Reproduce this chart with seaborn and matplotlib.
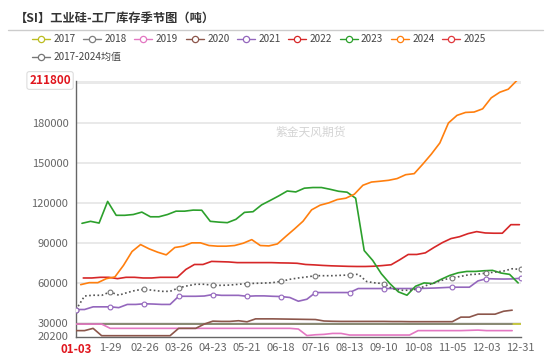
import numpy as np
import matplotlib
matplotlib.use('Agg')
import matplotlib.pyplot as plt
from matplotlib.lines import Line2D
import seaborn as sns
import pandas as pd

sns.set_style('white')
plt.rcParams['font.family'] = ['Noto Sans CJK SC', 'DejaVu Sans']

# x axis: weekly categories, labels every 4 weeks
tick_labels = ['01-03', '1-29', '02-26', '03-26', '04-23', '05-21', '06-18',
               '07-16', '08-13', '09-10', '10-08', '11-05', '12-03', '12-31']

# weekly factory inventory (tons)
y2017 = [29600] * 53
y2018 = [29600] * 52
y2019 = [29500, 29500, 29500, 29500, 26300, 26300, 26300, 26300, 26300, 26300,
         26300, 26300, 26300, 26300, 26300, 26300, 26300, 26300, 26300, 26300,
         26300, 26300, 26300, 26300, 26300, 26300, 25800, 20900, 21500, 21800,
         22500, 22500, 21300, 21300, 21300, 21300, 21300, 21300, 21300, 21300,
         24600, 24600, 24600, 24600, 24600, 24600, 24800, 25000, 24600, 24600,
         24600, 24600]
y2020 = [24600, 24600, 26300, 20800, 20800, 20800, 20800, 20800, 20800, 20800,
         20800, 20800, 26300, 26300, 26300, 29500, 31700, 31500, 31500, 32000,
         31200, 33400, 33400, 33400, 33300, 33200, 33100, 33000, 32900, 31800,
         31600, 31500, 31500, 31500, 31500, 31500, 31500, 31400, 31400, 31300,
         31300, 31300, 31300, 31300, 31300, 34700, 34700, 36900, 36900, 36900,
         39100, 39900]
y2021 = [40400, 40400, 42400, 42400, 42400, 41800, 44200, 44200, 44700, 44500,
         44200, 44200, 50300, 50300, 50300, 50500, 51600, 51000, 51000, 51000,
         50300, 50600, 50600, 50300, 50100, 49400, 46600, 48100, 53100, 53100,
         53100, 53100, 53100, 56100, 56100, 56100, 56100, 56100, 56100, 56100,
         56100, 56300, 56500, 56800, 57100, 57100, 57100, 61800, 63500, 63300,
         63200, 63300, 63800]
y2022 = [64000, 64000, 64500, 64500, 63500, 64500, 64500, 64000, 64000, 64500,
         64500, 64500, 70400, 74100, 74100, 76400, 76200, 76000, 75500, 75500,
         75500, 75500, 75500, 75300, 75200, 75000, 74100, 73800, 73400, 73100,
         72900, 72700, 72600, 72600, 72800, 73300, 73900, 77600, 81600, 81600,
         82800, 86800, 90500, 93500, 94900, 97200, 98700, 97700, 97500, 97500,
         103900, 103900]
y2023 = [104900, 106400, 105100, 121300, 110900, 110900, 111500, 113300, 109800, 109800,
         111500, 114000, 114000, 114800, 114700, 106400, 105800, 105400, 107900, 113100,
         113600, 118700, 122000, 125400, 129100, 128400, 131200, 131700, 131700, 130400,
         128900, 128200, 123700, 84500, 77100, 67200, 59800, 53600, 51100, 57800,
         60300, 59800, 63000, 65900, 67900, 68900, 68900, 69400, 69700, 67700,
         66700, 60300]
y2024 = [59000, 60500, 60500, 63500, 64800, 73400, 83800, 89000, 85800, 83300,
         81300, 86800, 87800, 90300, 90300, 88300, 87800, 87800, 88300, 90000,
         92700, 88300, 88000, 89500, 95200, 100700, 106500, 115000, 118500, 120200,
         122700, 123700, 126700, 133400, 135800, 136400, 137100, 138400, 141300, 142100,
         149200, 156700, 165100, 180000, 185700, 187900, 188200, 190600, 198800, 203000,
         205300, 211800]
y2025 = []
avg = [40200, 50500, 51100, 51000, 53600, 51100, 53100, 54800, 55500, 54800,
       54000, 54000, 56600, 58100, 59300, 59300, 58500, 58500, 58700, 59300,
       59800, 60000, 60200, 60500, 61500, 63000, 64000, 64800, 65700, 65700,
       65700, 66000, 66200, 66800, 61300, 60300, 59800, 56000, 54800, 54800,
       55800, 58500, 60500, 62700, 64200, 65200, 66500, 66900, 67700, 68400,
       69200, 70900, 70400]

# week of the first report in each year (fraction of a week after 01-03)
first_week = {'2017': 0, '2018': 0, '2019': 0, '2020': 0, '2021': 0,
              '2022': 0.85, '2023': 0.7, '2024': 0.55, '2025': 0}

series = {'2017': y2017, '2018': y2018, '2019': y2019, '2020': y2020,
          '2021': y2021, '2022': y2022, '2023': y2023, '2024': y2024,
          '2025': y2025}
colors = {'2017': '#bcbd22', '2018': '#7f7f7f', '2019': '#e377c2',
          '2020': '#8c564b', '2021': '#9467bd', '2022': '#d62728',
          '2023': '#2ca02c', '2024': '#ff7f0e', '2025': '#e0393e'}

rows = []
for yr, vals in series.items():
    for i, v in enumerate(vals):
        rows.append((yr, first_week[yr] + i, v))
df = pd.DataFrame(rows, columns=['year', 'week', 'value'])

fig = plt.figure(figsize=(5.5, 3.57), dpi=100)
ax = fig.add_axes([76 / 550, 20.5 / 357, 444.7 / 550, 256 / 357])

sns.lineplot(data=df, x='week', y='value', hue='year', palette=colors,
             hue_order=[y for y in series if series[y]], linewidth=1.2,
             legend=False, ax=ax, zorder=3)

avg_df = pd.DataFrame({'week': np.arange(len(avg)), 'value': avg})
sns.lineplot(data=avg_df, x='week', y='value', color='#555555', linewidth=1.2,
             linestyle=(0, (1, 1.5)), ax=ax, zorder=4)
sns.scatterplot(data=avg_df[avg_df.week % 4 == 0], x='week', y='value', s=12,
                facecolor='white', edgecolor='#777777', linewidth=0.8,
                ax=ax, zorder=5)
d21 = df[(df.year == '2021') & (df.week % 4 == 0)]
sns.scatterplot(data=d21, x='week', y='value', s=12, facecolor='white',
                edgecolor='#9467bd', linewidth=0.8, ax=ax, zorder=5)

ymin, ymax = 20200, 211800
ax.set_xlim(0, 52)
ax.set_ylim(ymin, ymax)
yticks = [20200, 30000, 60000, 90000, 120000, 150000, 180000, 210000]
ax.set_yticks(yticks)
ax.set_yticklabels([str(t) if t != 210000 else '' for t in yticks])
ax.set_xticks(np.arange(0, 53, 4))
ax.set_xticklabels(tick_labels)
ax.set_xlabel('')
ax.set_ylabel('')
ax.tick_params(axis='both', labelsize=8, labelcolor='#666666', color='#666666',
               length=4, width=0.9, pad=1.5)
ax.tick_params(axis='x', pad=0.5)
for t in [30000, 60000, 90000, 120000, 150000, 180000, 210000, 211800]:
    ax.axhline(t, color='#e3e3e3', linewidth=1.1, zorder=0)
for side in ['top', 'right']:
    ax.spines[side].set_visible(False)
for side in ['left', 'bottom']:
    ax.spines[side].set_color('#666666')
    ax.spines[side].set_linewidth(1.0)

xl = ax.get_xticklabels()
xl[0].set_color('#e0161e')
xl[0].set_fontweight('bold')
xl[0].set_fontsize(8.3)

ax.text(-0.6, ymax, '211800', transform=ax.transData, ha='right', va='center',
        fontsize=8.5, fontweight='bold', color='#e0161e', zorder=10,
        bbox=dict(boxstyle='round,pad=0.2', facecolor='white',
                  edgecolor='#dddddd', linewidth=0.8), clip_on=False)

ax.text(27.5, 173000, '紫金天风期货', fontsize=8.5, color='#d4d4d4', ha='center',
        va='center', zorder=1)

# title and rule
fig.text(15 / 550, 1 - 18 / 357, '【SI】工业硅-工厂库存季节图（吨）', fontsize=8.8,
         fontweight='bold', color='#333333', ha='left', va='center')
fig.add_artist(Line2D([8 / 550, 543 / 550], [1 - 30 / 357, 1 - 30 / 357],
                      color='#cccccc', linewidth=1.0))

def handle(c):
    return Line2D([], [], color=c, linewidth=1.0, marker='o', markersize=4.5,
                  markerfacecolor='white', markeredgecolor=c, markeredgewidth=0.9)

leg1 = fig.legend([handle(colors[y]) for y in series], list(series.keys()),
                  ncol=9, loc='center left', bbox_to_anchor=(32 / 550, 1 - 39 / 357),
                  frameon=False, fontsize=7.2, handlelength=1.8, handletextpad=0.35,
                  columnspacing=0.75, borderaxespad=0, borderpad=0)
for t in leg1.get_texts():
    t.set_color('#444444')
leg2 = fig.legend([handle('#777777')], ['2017-2024均值'], loc='center left',
                  bbox_to_anchor=(32 / 550, 1 - 57 / 357), frameon=False,
                  fontsize=7.2, handlelength=1.8, handletextpad=0.35,
                  borderaxespad=0, borderpad=0)
for t in leg2.get_texts():
    t.set_color('#444444')

fig.savefig('out.png', dpi=100)
